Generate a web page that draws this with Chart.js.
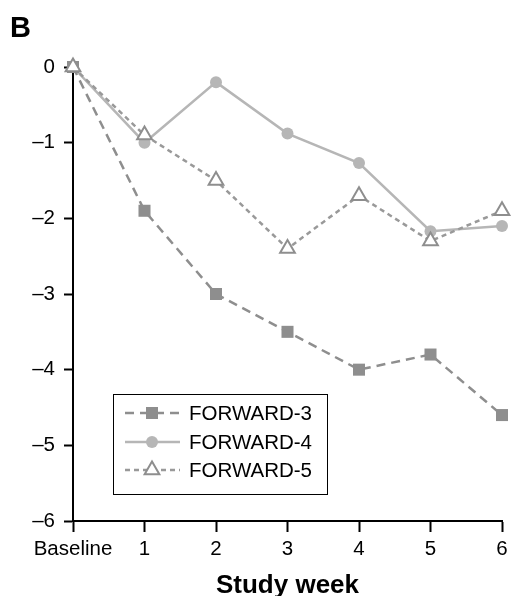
<!DOCTYPE html>
<html>
<head>
<meta charset="utf-8">
<script src="https://cdn.jsdelivr.net/npm/chart.js@4/dist/chart.umd.min.js"></script>
<style>
  html, body { margin: 0; padding: 0; background: #fff; }
  #wrap { width: 513px; height: 596px; position: relative; }
</style>
</head>
<body>
<div id="wrap"><canvas id="c" width="513" height="596"></canvas></div>
<script>
// Study weeks on the x axis
const weeks = ['Baseline', '1', '2', '3', '4', '5', '6'];
// Change from baseline for each study
const forward3 = [0, -1.9, -3.0, -3.5, -4.0, -3.8, -4.6];
const forward4 = [0, -1.0, -0.2, -0.88, -1.27, -2.17, -2.1];
const forward5 = [0, -0.9, -1.5, -2.4, -1.7, -2.3, -1.9];
const seriesNames = ['FORWARD-3', 'FORWARD-4', 'FORWARD-5'];
const yTicks = [0, -1, -2, -3, -4, -5, -6];

const FONT = 'Arial, "Liberation Sans", sans-serif';
const TICK_SIZE = 20.5;

// Boxed legend drawn inside the plot area, lower left
const boxLegend = {
  id: 'boxLegend',
  afterDatasetsDraw(chart) {
    const ctx = chart.ctx;
    const x0 = 113.5, y0 = 394.5, w = 214, h = 100;
    const rowsY = [413, 442, 470];
    ctx.save();
    ctx.fillStyle = '#fff';
    ctx.fillRect(x0, y0, w, h);
    ctx.strokeStyle = '#000';
    ctx.lineWidth = 1;
    ctx.strokeRect(x0, y0, w, h);
    chart.data.datasets.forEach((ds, i) => {
      const y = rowsY[i];
      // line sample
      ctx.save();
      ctx.strokeStyle = ds.borderColor;
      ctx.lineWidth = ds.borderWidth;
      ctx.setLineDash(ds.borderDash || []);
      ctx.beginPath();
      ctx.moveTo(125, y);
      ctx.lineTo(180, y);
      ctx.stroke();
      ctx.restore();
      // marker
      ctx.save();
      ctx.fillStyle = ds.pointBackgroundColor;
      ctx.strokeStyle = ds.pointBorderColor;
      ctx.lineWidth = ds.pointBorderWidth;
      Chart.helpers.drawPoint(ctx, {
        pointStyle: ds.pointStyle,
        radius: ds.pointRadius,
        borderWidth: ds.pointBorderWidth
      }, 152, y);
      ctx.restore();
      // label
      ctx.fillStyle = '#000';
      ctx.font = TICK_SIZE + 'px ' + FONT;
      ctx.textBaseline = 'middle';
      ctx.textAlign = 'left';
      ctx.fillText(ds.label, 189, y + 1);
    });
    ctx.restore();
  }
};

// Panel letter
const panelLetter = {
  id: 'panelLetter',
  afterDraw(chart) {
    const ctx = chart.ctx;
    ctx.save();
    ctx.fillStyle = '#000';
    ctx.font = 'bold 29px ' + FONT;
    ctx.textBaseline = 'alphabetic';
    ctx.textAlign = 'left';
    ctx.fillText('B', 10, 37);
    ctx.restore();
  }
};

new Chart(document.getElementById('c'), {
  type: 'line',
  data: {
    labels: weeks,
    datasets: [
      {
        label: seriesNames[0],
        data: forward3,
        borderColor: '#8e8e8e',
        borderWidth: 2.5,
        borderDash: [9, 6],
        pointStyle: 'rect',
        pointRadius: 8.5,
        pointBorderWidth: 0,
        pointBackgroundColor: '#8e8e8e',
        pointBorderColor: '#8e8e8e',
        order: 1
      },
      {
        label: seriesNames[1],
        data: forward4,
        borderColor: '#b6b6b6',
        borderWidth: 2.5,
        pointStyle: 'circle',
        pointRadius: 6,
        pointBorderWidth: 0,
        pointBackgroundColor: '#b6b6b6',
        pointBorderColor: '#b6b6b6',
        order: 2
      },
      {
        label: seriesNames[2],
        data: forward5,
        borderColor: '#999999',
        borderWidth: 2.5,
        borderDash: [5, 4],
        pointStyle: 'triangle',
        pointRadius: 8.5,
        pointBorderWidth: 2,
        pointBackgroundColor: '#ffffff',
        pointBorderColor: '#8e8e8e',
        order: 0
      }
    ]
  },
  options: {
    responsive: false,
    animation: false,
    devicePixelRatio: 1,
    clip: false,
    layout: { padding: { top: 67, right: 11, left: 0, bottom: 0 } },
    plugins: {
      legend: { display: false },
      tooltip: { enabled: false }
    },
    elements: { line: { tension: 0 } },
    scales: {
      x: {
        type: 'category',
        offset: false,
        grid: { display: true, drawOnChartArea: false, drawTicks: true, tickLength: 11, tickColor: '#000', tickWidth: 2 },
        border: { display: true, color: '#000', width: 2 },
        ticks: { color: '#000', font: { family: FONT, size: TICK_SIZE }, padding: 5, maxRotation: 0, autoSkip: false },
        title: { display: true, text: 'Study week', color: '#000', font: { family: FONT, size: 26, weight: 'bold' }, padding: { top: 9, bottom: -5 } },
        afterFit(scale) { scale.height = 75; }
      },
      y: {
        type: 'linear',
        min: -6,
        max: 0,
        afterBuildTicks(scale) { scale.ticks = yTicks.map(v => ({ value: v })); },
        grid: { display: true, drawOnChartArea: false, drawTicks: true, tickLength: 9, tickColor: '#000', tickWidth: 2 },
        border: { display: true, color: '#000', width: 2 },
        ticks: {
          color: '#000',
          font: { family: FONT, size: TICK_SIZE },
          padding: 9,
          callback: v => (v < 0 ? '\u2013' + Math.abs(v) : String(v))
        },
        afterFit(scale) { scale.width = 73; }
      }
    }
  },
  plugins: [boxLegend, panelLetter]
});
</script>
</body>
</html>
